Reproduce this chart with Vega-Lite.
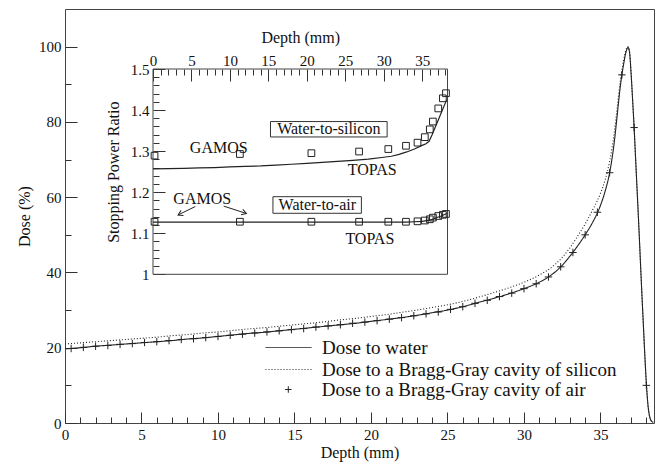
{
 "$schema": "https://vega.github.io/schema/vega-lite/v6.json",
 "width": 589, "height": 414,
 "autosize": {"type": "none"},
 "padding": {"left": 65, "top": 9, "right": 3, "bottom": 41},
 "background": "white",
 "config": {
  "view": {"stroke": "#444", "strokeWidth": 1},
  "font": "Liberation Serif",
  "axis": {"labelFont": "Liberation Serif", "titleFont": "Liberation Serif", "labelFontSize": 15, "titleFontSize": 16, "titleFontWeight": "normal", "labelColor": "#111", "titleColor": "#111", "tickColor": "#333", "tickWidth": 1, "domain": false, "grid": false, "labelFlush": false, "labelOverlap": false},
  "legend": {"labelFont": "Liberation Serif", "labelFontSize": 19, "labelColor": "#111", "padding": 0, "labelLimit": 600, "clipHeight": 19, "rowPadding": 2, "symbolStrokeWidth": 1}
 },
 "datasets": {
  "lines": [
   {"s":"Dose to water","d":0,"D":19.7},{"s":"Dose to water","d":1,"D":20.0},{"s":"Dose to water","d":2,"D":20.4},{"s":"Dose to water","d":3,"D":20.7},{"s":"Dose to water","d":4,"D":21.0},{"s":"Dose to water","d":5,"D":21.3},{"s":"Dose to water","d":6,"D":21.6},{"s":"Dose to water","d":7,"D":21.9},{"s":"Dose to water","d":8,"D":22.3},{"s":"Dose to water","d":9,"D":22.6},{"s":"Dose to water","d":10,"D":23.0},{"s":"Dose to water","d":11,"D":23.4},{"s":"Dose to water","d":12,"D":23.8},{"s":"Dose to water","d":13,"D":24.1},{"s":"Dose to water","d":14,"D":24.5},{"s":"Dose to water","d":15,"D":24.9},{"s":"Dose to water","d":16,"D":25.3},{"s":"Dose to water","d":17,"D":25.7},{"s":"Dose to water","d":18,"D":26.1},{"s":"Dose to water","d":19,"D":26.5},{"s":"Dose to water","d":20,"D":27.0},{"s":"Dose to water","d":21,"D":27.5},{"s":"Dose to water","d":22,"D":28.0},{"s":"Dose to water","d":23,"D":28.6},{"s":"Dose to water","d":24,"D":29.3},{"s":"Dose to water","d":25,"D":30.0},{"s":"Dose to water","d":26,"D":30.9},{"s":"Dose to water","d":27,"D":32.0},{"s":"Dose to water","d":28,"D":33.1},{"s":"Dose to water","d":29,"D":34.3},{"s":"Dose to water","d":30,"D":35.7},{"s":"Dose to water","d":31,"D":37.4},{"s":"Dose to water","d":32,"D":40.0},{"s":"Dose to water","d":32.5,"D":41.9},{"s":"Dose to water","d":33,"D":44.3},{"s":"Dose to water","d":33.5,"D":47.0},{"s":"Dose to water","d":34,"D":50.0},{"s":"Dose to water","d":34.5,"D":53.4},{"s":"Dose to water","d":35,"D":57.8},{"s":"Dose to water","d":35.3,"D":61.5},{"s":"Dose to water","d":35.6,"D":66.5},{"s":"Dose to water","d":35.9,"D":74.5},{"s":"Dose to water","d":36.1,"D":82},{"s":"Dose to water","d":36.3,"D":89.5},{"s":"Dose to water","d":36.5,"D":95},{"s":"Dose to water","d":36.7,"D":99},{"s":"Dose to water","d":36.8,"D":99.8},{"s":"Dose to water","d":36.9,"D":98.5},{"s":"Dose to water","d":37.0,"D":93},{"s":"Dose to water","d":37.1,"D":86},{"s":"Dose to water","d":37.2,"D":78.5},{"s":"Dose to water","d":37.3,"D":70},{"s":"Dose to water","d":37.4,"D":61.5},{"s":"Dose to water","d":37.5,"D":53},{"s":"Dose to water","d":37.6,"D":44},{"s":"Dose to water","d":37.7,"D":35},{"s":"Dose to water","d":37.8,"D":26.5},{"s":"Dose to water","d":37.9,"D":18},{"s":"Dose to water","d":38.0,"D":10.5},{"s":"Dose to water","d":38.1,"D":5},{"s":"Dose to water","d":38.2,"D":2},{"s":"Dose to water","d":38.3,"D":0.7},{"s":"Dose to water","d":38.45,"D":0.2},
   {"s":"Dose to a Bragg-Gray cavity of silicon","d":0,"D":21.0},{"s":"Dose to a Bragg-Gray cavity of silicon","d":1,"D":21.3},{"s":"Dose to a Bragg-Gray cavity of silicon","d":2,"D":21.6},{"s":"Dose to a Bragg-Gray cavity of silicon","d":3,"D":21.9},{"s":"Dose to a Bragg-Gray cavity of silicon","d":4,"D":22.2},{"s":"Dose to a Bragg-Gray cavity of silicon","d":5,"D":22.5},{"s":"Dose to a Bragg-Gray cavity of silicon","d":6,"D":22.8},{"s":"Dose to a Bragg-Gray cavity of silicon","d":7,"D":23.2},{"s":"Dose to a Bragg-Gray cavity of silicon","d":8,"D":23.5},{"s":"Dose to a Bragg-Gray cavity of silicon","d":9,"D":23.9},{"s":"Dose to a Bragg-Gray cavity of silicon","d":10,"D":24.2},{"s":"Dose to a Bragg-Gray cavity of silicon","d":11,"D":24.6},{"s":"Dose to a Bragg-Gray cavity of silicon","d":12,"D":25.0},{"s":"Dose to a Bragg-Gray cavity of silicon","d":13,"D":25.3},{"s":"Dose to a Bragg-Gray cavity of silicon","d":14,"D":25.7},{"s":"Dose to a Bragg-Gray cavity of silicon","d":15,"D":26.1},{"s":"Dose to a Bragg-Gray cavity of silicon","d":16,"D":26.5},{"s":"Dose to a Bragg-Gray cavity of silicon","d":17,"D":26.9},{"s":"Dose to a Bragg-Gray cavity of silicon","d":18,"D":27.4},{"s":"Dose to a Bragg-Gray cavity of silicon","d":19,"D":27.8},{"s":"Dose to a Bragg-Gray cavity of silicon","d":20,"D":28.3},{"s":"Dose to a Bragg-Gray cavity of silicon","d":21,"D":28.8},{"s":"Dose to a Bragg-Gray cavity of silicon","d":22,"D":29.4},{"s":"Dose to a Bragg-Gray cavity of silicon","d":23,"D":30.0},{"s":"Dose to a Bragg-Gray cavity of silicon","d":24,"D":30.7},{"s":"Dose to a Bragg-Gray cavity of silicon","d":25,"D":31.4},{"s":"Dose to a Bragg-Gray cavity of silicon","d":26,"D":32.3},{"s":"Dose to a Bragg-Gray cavity of silicon","d":27,"D":33.4},{"s":"Dose to a Bragg-Gray cavity of silicon","d":28,"D":34.6},{"s":"Dose to a Bragg-Gray cavity of silicon","d":29,"D":35.9},{"s":"Dose to a Bragg-Gray cavity of silicon","d":30,"D":37.4},{"s":"Dose to a Bragg-Gray cavity of silicon","d":31,"D":39.3},{"s":"Dose to a Bragg-Gray cavity of silicon","d":32,"D":42.0},{"s":"Dose to a Bragg-Gray cavity of silicon","d":32.5,"D":44.0},{"s":"Dose to a Bragg-Gray cavity of silicon","d":33,"D":46.5},{"s":"Dose to a Bragg-Gray cavity of silicon","d":33.5,"D":49.6},{"s":"Dose to a Bragg-Gray cavity of silicon","d":34,"D":52.9},{"s":"Dose to a Bragg-Gray cavity of silicon","d":34.5,"D":56.7},{"s":"Dose to a Bragg-Gray cavity of silicon","d":35,"D":61.0},{"s":"Dose to a Bragg-Gray cavity of silicon","d":35.3,"D":64.5},{"s":"Dose to a Bragg-Gray cavity of silicon","d":35.6,"D":69.5},{"s":"Dose to a Bragg-Gray cavity of silicon","d":35.9,"D":77},{"s":"Dose to a Bragg-Gray cavity of silicon","d":36.1,"D":84},{"s":"Dose to a Bragg-Gray cavity of silicon","d":36.3,"D":91},{"s":"Dose to a Bragg-Gray cavity of silicon","d":36.5,"D":96},{"s":"Dose to a Bragg-Gray cavity of silicon","d":36.7,"D":99.5},{"s":"Dose to a Bragg-Gray cavity of silicon","d":36.8,"D":100},{"s":"Dose to a Bragg-Gray cavity of silicon","d":36.9,"D":98.8},{"s":"Dose to a Bragg-Gray cavity of silicon","d":37.0,"D":93.2},{"s":"Dose to a Bragg-Gray cavity of silicon","d":37.1,"D":86},{"s":"Dose to a Bragg-Gray cavity of silicon","d":37.2,"D":78.5},{"s":"Dose to a Bragg-Gray cavity of silicon","d":37.3,"D":70},{"s":"Dose to a Bragg-Gray cavity of silicon","d":37.4,"D":61.5},{"s":"Dose to a Bragg-Gray cavity of silicon","d":37.5,"D":53},{"s":"Dose to a Bragg-Gray cavity of silicon","d":37.6,"D":44},{"s":"Dose to a Bragg-Gray cavity of silicon","d":37.7,"D":35},{"s":"Dose to a Bragg-Gray cavity of silicon","d":37.8,"D":26.5},{"s":"Dose to a Bragg-Gray cavity of silicon","d":37.9,"D":18},{"s":"Dose to a Bragg-Gray cavity of silicon","d":38.0,"D":10.5},{"s":"Dose to a Bragg-Gray cavity of silicon","d":38.1,"D":5},{"s":"Dose to a Bragg-Gray cavity of silicon","d":38.2,"D":2},{"s":"Dose to a Bragg-Gray cavity of silicon","d":38.3,"D":0.7},{"s":"Dose to a Bragg-Gray cavity of silicon","d":38.45,"D":0.2}
  ],
  "air": [
   {"s":"Dose to a Bragg-Gray cavity of air","d":0.4,"D":19.8},{"s":"Dose to a Bragg-Gray cavity of air","d":1.2,"D":20.1},{"s":"Dose to a Bragg-Gray cavity of air","d":2.0,"D":20.4},{"s":"Dose to a Bragg-Gray cavity of air","d":2.8,"D":20.6},{"s":"Dose to a Bragg-Gray cavity of air","d":3.6,"D":20.9},{"s":"Dose to a Bragg-Gray cavity of air","d":4.4,"D":21.1},{"s":"Dose to a Bragg-Gray cavity of air","d":5.2,"D":21.4},{"s":"Dose to a Bragg-Gray cavity of air","d":6.0,"D":21.6},{"s":"Dose to a Bragg-Gray cavity of air","d":6.8,"D":21.9},{"s":"Dose to a Bragg-Gray cavity of air","d":7.6,"D":22.2},{"s":"Dose to a Bragg-Gray cavity of air","d":8.4,"D":22.4},{"s":"Dose to a Bragg-Gray cavity of air","d":9.2,"D":22.7},{"s":"Dose to a Bragg-Gray cavity of air","d":10.0,"D":23.0},{"s":"Dose to a Bragg-Gray cavity of air","d":10.8,"D":23.3},{"s":"Dose to a Bragg-Gray cavity of air","d":11.6,"D":23.6},{"s":"Dose to a Bragg-Gray cavity of air","d":12.4,"D":23.9},{"s":"Dose to a Bragg-Gray cavity of air","d":13.2,"D":24.2},{"s":"Dose to a Bragg-Gray cavity of air","d":14.0,"D":24.5},{"s":"Dose to a Bragg-Gray cavity of air","d":14.8,"D":24.8},{"s":"Dose to a Bragg-Gray cavity of air","d":15.6,"D":25.1},{"s":"Dose to a Bragg-Gray cavity of air","d":16.4,"D":25.5},{"s":"Dose to a Bragg-Gray cavity of air","d":17.2,"D":25.8},{"s":"Dose to a Bragg-Gray cavity of air","d":18.0,"D":26.1},{"s":"Dose to a Bragg-Gray cavity of air","d":18.8,"D":26.5},{"s":"Dose to a Bragg-Gray cavity of air","d":19.6,"D":26.8},{"s":"Dose to a Bragg-Gray cavity of air","d":20.4,"D":27.2},{"s":"Dose to a Bragg-Gray cavity of air","d":21.2,"D":27.6},{"s":"Dose to a Bragg-Gray cavity of air","d":22.0,"D":28.0},{"s":"Dose to a Bragg-Gray cavity of air","d":22.8,"D":28.5},{"s":"Dose to a Bragg-Gray cavity of air","d":23.6,"D":29.0},{"s":"Dose to a Bragg-Gray cavity of air","d":24.4,"D":29.5},{"s":"Dose to a Bragg-Gray cavity of air","d":25.2,"D":30.2},{"s":"Dose to a Bragg-Gray cavity of air","d":26.0,"D":30.9},{"s":"Dose to a Bragg-Gray cavity of air","d":26.8,"D":31.8},{"s":"Dose to a Bragg-Gray cavity of air","d":27.6,"D":32.6},{"s":"Dose to a Bragg-Gray cavity of air","d":28.4,"D":33.6},{"s":"Dose to a Bragg-Gray cavity of air","d":29.2,"D":34.5},{"s":"Dose to a Bragg-Gray cavity of air","d":30.0,"D":35.7},{"s":"Dose to a Bragg-Gray cavity of air","d":30.8,"D":37.0},{"s":"Dose to a Bragg-Gray cavity of air","d":31.6,"D":38.8},{"s":"Dose to a Bragg-Gray cavity of air","d":32.4,"D":41.5},{"s":"Dose to a Bragg-Gray cavity of air","d":33.2,"D":45.3},{"s":"Dose to a Bragg-Gray cavity of air","d":34.0,"D":50.0},{"s":"Dose to a Bragg-Gray cavity of air","d":34.8,"D":56.0},{"s":"Dose to a Bragg-Gray cavity of air","d":35.6,"D":66.5},{"s":"Dose to a Bragg-Gray cavity of air","d":36.4,"D":92.5},{"s":"Dose to a Bragg-Gray cavity of air","d":37.2,"D":78.5},{"s":"Dose to a Bragg-Gray cavity of air","d":38.0,"D":10.0}
  ],
  "topas": [
   {"m":"si","d":0,"r":1.257},{"m":"si","d":2,"r":1.2575},{"m":"si","d":4,"r":1.258},{"m":"si","d":6,"r":1.259},{"m":"si","d":8,"r":1.260},{"m":"si","d":10,"r":1.2615},{"m":"si","d":12,"r":1.263},{"m":"si","d":14,"r":1.264},{"m":"si","d":16,"r":1.266},{"m":"si","d":18,"r":1.268},{"m":"si","d":20,"r":1.270},{"m":"si","d":22,"r":1.2725},{"m":"si","d":24,"r":1.275},{"m":"si","d":26,"r":1.2775},{"m":"si","d":28,"r":1.2805},{"m":"si","d":30,"r":1.285},{"m":"si","d":31,"r":1.2875},{"m":"si","d":32,"r":1.292},{"m":"si","d":33,"r":1.298},{"m":"si","d":34,"r":1.305},{"m":"si","d":35,"r":1.314},{"m":"si","d":35.5,"r":1.318},{"m":"si","d":35.9,"r":1.324},{"m":"si","d":36.3,"r":1.340},{"m":"si","d":36.7,"r":1.358},{"m":"si","d":37.1,"r":1.376},{"m":"si","d":37.5,"r":1.394},{"m":"si","d":37.9,"r":1.412},{"m":"si","d":38.2,"r":1.425},
   {"m":"air","d":0,"r":1.127},{"m":"air","d":10,"r":1.127},{"m":"air","d":20,"r":1.127},{"m":"air","d":30,"r":1.127},{"m":"air","d":33,"r":1.127},{"m":"air","d":34,"r":1.128},{"m":"air","d":35,"r":1.129},{"m":"air","d":36,"r":1.132},{"m":"air","d":36.5,"r":1.135},{"m":"air","d":37,"r":1.139},{"m":"air","d":37.5,"r":1.142},{"m":"air","d":38.2,"r":1.148}
  ],
  "gamos": [
   {"m":"si","d":0.2,"r":1.289},{"m":"si","d":11.3,"r":1.293},{"m":"si","d":20.6,"r":1.295},{"m":"si","d":26.8,"r":1.299},{"m":"si","d":30.6,"r":1.305},{"m":"si","d":32.9,"r":1.313},{"m":"si","d":34.4,"r":1.3206},{"m":"si","d":35.35,"r":1.334},{"m":"si","d":36.0,"r":1.353},{"m":"si","d":36.4,"r":1.372},{"m":"si","d":37.1,"r":1.404},{"m":"si","d":37.7,"r":1.4286},{"m":"si","d":38.1,"r":1.441},
   {"m":"air","d":0.2,"r":1.128},{"m":"air","d":11.3,"r":1.128},{"m":"air","d":20.6,"r":1.128},{"m":"air","d":26.8,"r":1.128},{"m":"air","d":30.6,"r":1.128},{"m":"air","d":32.9,"r":1.128},{"m":"air","d":34.4,"r":1.129},{"m":"air","d":35.35,"r":1.131},{"m":"air","d":36.0,"r":1.134},{"m":"air","d":36.4,"r":1.138},{"m":"air","d":37.1,"r":1.142},{"m":"air","d":37.7,"r":1.145},{"m":"air","d":38.1,"r":1.147}
  ],
  "frame": [{"d":0,"d2":38.3,"r":1,"r2":1.5}],
  "boxes": [{"d":15.28,"d2":30.45,"r":1.3345,"r2":1.372},{"d":15.6,"d2":27.1,"r":1.1486,"r2":1.189}],
  "notes": [
   {"t":"GAMOS","d":8.55,"r":1.3076},{"t":"TOPAS","d":28.5,"r":1.254},{"t":"Water-to-silicon","d":22.86,"r":1.3534},
   {"t":"GAMOS","d":6.4,"r":1.1834},{"t":"Water-to-air","d":21.37,"r":1.1688},{"t":"TOPAS","d":28.2,"r":1.086}
  ],
  "arrows": [{"a":"left","d":5.5,"r":1.165,"d2":3.25,"r2":1.1445},{"a":"right","d":9.2,"r":1.166,"d2":12.15,"r2":1.148}]
 },
 "layer": [
  {
   "encoding": {
    "x": {"field": "d", "type": "quantitative", "scale": {"domain": [0, 38.5], "nice": false, "zero": false}, "axis": null},
    "y": {"field": "D", "type": "quantitative", "scale": {"domain": [0, 110], "nice": false}, "axis": null}
   },
   "layer": [
    {"data": {"name": "lines"}, "mark": {"type": "line", "color": "#222", "strokeWidth": 1.1, "interpolate": "monotone"},
     "encoding": {
      "x": {"field": "d", "type": "quantitative", "axis": {"title": "Depth (mm)", "orient": "bottom", "values": [0,5,10,15,20,25,30,35], "tickSize": -11, "labelPadding": 15, "titlePadding": 2}},
      "y": {"field": "D", "type": "quantitative", "axis": {"title": "Dose (%)", "orient": "left", "values": [0,20,40,60,80,100], "tickSize": -12, "labelPadding": 16, "titlePadding": 6}},
      "strokeDash": {"field": "s", "type": "nominal", "scale": {"domain": ["Dose to water", "Dose to a Bragg-Gray cavity of silicon"], "range": [[1, 0], [1, 2]]},
       "legend": {"orient": "none", "legendX": 200, "legendY": 329, "title": null, "symbolSize": 2116, "symbolType": "stroke", "labelOffset": 10, "symbolStrokeColor": "#222"}}
     }},
    {"data": {"name": "air"}, "mark": {"type": "point", "color": "#222", "filled": false, "size": 56, "strokeWidth": 1, "opacity": 1},
     "encoding": {
      "shape": {"field": "s", "type": "nominal", "scale": {"domain": ["Dose to a Bragg-Gray cavity of air"], "range": ["M-1,0L1,0M0,-1L0,1"]},
       "legend": {"orient": "none", "legendX": 213.8, "legendY": 371, "title": null, "symbolSize": 42, "labelOffset": 24, "symbolStrokeColor": "#222"}}
     }},
    {"data": {"name": "air"}, "mark": {"type": "point", "opacity": 0},
     "encoding": {
      "x": {"field": "d", "type": "quantitative", "axis": {"title": null, "orient": "bottom", "values": [1,2,3,4,6,7,8,9,11,12,13,14,16,17,18,19,21,22,23,24,26,27,28,29,31,32,33,34,36,37,38], "tickSize": -6, "labels": false}},
      "y": {"field": "D", "type": "quantitative", "axis": {"title": null, "orient": "left", "values": [10,30,50,70,90], "tickSize": -6, "labels": false}}
     }}
   ],
   "resolve": {"axis": {"x": "independent", "y": "independent"}}
  },
  {
   "encoding": {
    "x": {"field": "d", "type": "quantitative", "scale": {"domain": [0, 38.3], "range": [88, 382.5], "nice": false, "zero": false}, "axis": null},
    "y": {"field": "r", "type": "quantitative", "scale": {"domain": [1, 1.5], "range": [265.3, 60], "nice": false, "zero": false}, "axis": null}
   },
   "layer": [
    {"data": {"name": "frame"}, "mark": {"type": "rect", "filled": false, "stroke": "#444", "strokeWidth": 1},
     "encoding": {
      "x": {"field": "d", "type": "quantitative", "axis": {"title": "Depth (mm)", "orient": "top", "offset": -60, "values": [0,5,10,15,20,25,30,35], "tickSize": -12, "labelPadding": 13, "titlePadding": 8}},
      "y": {"field": "r", "type": "quantitative", "axis": {"title": "Stopping Power Ratio", "orient": "left", "offset": -88, "values": [1,1.1,1.2,1.3,1.4,1.5], "labelExpr": "format(datum.value, '~g')", "tickSize": -12, "labelPadding": 16, "titlePadding": 9}},
      "x2": {"field": "d2"}, "y2": {"field": "r2"}}},
    {"data": {"name": "frame"}, "mark": {"type": "point", "opacity": 0},
     "encoding": {
      "x": {"field": "d", "type": "quantitative", "axis": {"title": null, "orient": "top", "offset": -60, "values": [1,2,3,4,6,7,8,9,11,12,13,14,16,17,18,19,21,22,23,24,26,27,28,29,31,32,33,34,36,37,38], "tickSize": -6, "labels": false}},
      "y": {"field": "r", "type": "quantitative", "axis": {"title": null, "orient": "left", "offset": -88, "values": [1.02,1.04,1.06,1.08,1.12,1.14,1.16,1.18,1.22,1.24,1.26,1.28,1.32,1.34,1.36,1.38,1.42,1.44,1.46,1.48], "tickSize": -6, "labels": false}}
     }},
    {"data": {"name": "topas"}, "mark": {"type": "line", "color": "#222", "strokeWidth": 1.2},
     "encoding": {"detail": {"field": "m"}}},
    {"data": {"name": "gamos"}, "mark": {"type": "point", "shape": "square", "filled": false, "color": "#222", "size": 45, "strokeWidth": 1, "opacity": 1}},
    {"data": {"name": "boxes"}, "mark": {"type": "rect", "fill": "white", "stroke": "#333", "strokeWidth": 1},
     "encoding": {"x2": {"field": "d2"}, "y2": {"field": "r2"}}},
    {"data": {"name": "notes"}, "mark": {"type": "text", "font": "Liberation Serif", "fontSize": 16, "color": "#111", "align": "center", "baseline": "middle"},
     "encoding": {"text": {"field": "t"}}},
    {"data": {"name": "arrows"}, "mark": {"type": "rule", "color": "#222", "strokeWidth": 1},
     "encoding": {"x2": {"field": "d2"}, "y2": {"field": "r2"}}},
    {"data": {"name": "arrows"}, "transform": [{"filter": "datum.a === 'left'"}],
     "mark": {"type": "point", "shape": "M-1,-0.6L0,0L-1,0.6", "filled": false, "color": "#222", "size": 90, "strokeWidth": 1, "opacity": 1, "angle": 155},
     "encoding": {"x": {"field": "d2", "type": "quantitative", "axis": null}, "y": {"field": "r2", "type": "quantitative", "axis": null}}},
    {"data": {"name": "arrows"}, "transform": [{"filter": "datum.a === 'right'"}],
     "mark": {"type": "point", "shape": "M-1,-0.6L0,0L-1,0.6", "filled": false, "color": "#222", "size": 90, "strokeWidth": 1, "opacity": 1, "angle": 18},
     "encoding": {"x": {"field": "d2", "type": "quantitative", "axis": null}, "y": {"field": "r2", "type": "quantitative", "axis": null}}}
   ],
   "resolve": {"axis": {"x": "independent", "y": "independent"}}
  }
 ],
 "resolve": {"scale": {"x": "independent", "y": "independent"}}
}
